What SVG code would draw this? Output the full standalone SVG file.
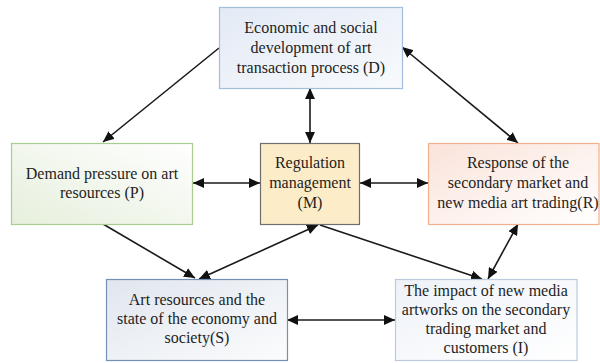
<svg xmlns="http://www.w3.org/2000/svg" width="600" height="363" viewBox="0 0 600 363">
  <style>
    .box { stroke-width: 1.2; }
    .lbl { font-family: "Liberation Serif", "Times New Roman", serif; font-size: 16px; fill: #1e1e1e; text-anchor: middle; }
    .link { stroke: #1a1a1a; stroke-width: 1.6; fill: none; }
  </style>
  <defs>
    <marker id="head" viewBox="0 0 10 9" refX="10" refY="4.5" markerWidth="11" markerHeight="10" markerUnits="userSpaceOnUse" orient="auto-start-reverse">
      <path d="M0,0 L10,4.5 L0,9 Z" fill="#111"/>
    </marker>
    <linearGradient id="gD" x1="0" y1="0" x2="1" y2="1">
      <stop offset="0" stop-color="#e3eaf5"/>
      <stop offset="1" stop-color="#f8fafd"/>
    </linearGradient>
    <linearGradient id="gP" x1="0" y1="1" x2="1" y2="0">
      <stop offset="0" stop-color="#e6efdc"/>
      <stop offset="1" stop-color="#ffffff"/>
    </linearGradient>
    <linearGradient id="gR" x1="0" y1="0" x2="1" y2="1">
      <stop offset="0" stop-color="#fae3da"/>
      <stop offset="1" stop-color="#ffffff"/>
    </linearGradient>
    <linearGradient id="gS" x1="0" y1="0" x2="1" y2="1">
      <stop offset="0" stop-color="#e1e6ee"/>
      <stop offset="1" stop-color="#fbfcfd"/>
    </linearGradient>
    <linearGradient id="gI" x1="0" y1="0" x2="1" y2="1">
      <stop offset="0" stop-color="#eef2f8"/>
      <stop offset="1" stop-color="#ffffff"/>
    </linearGradient>
  </defs>

  <rect width="600" height="363" fill="#ffffff"/>

  <!-- connectors -->
  <g id="connectors">
    <line class="link" x1="219" y1="48" x2="103" y2="142" marker-end="url(#head)"/>
    <line class="link" x1="402" y1="47" x2="518" y2="143" marker-start="url(#head)" marker-end="url(#head)"/>
    <line class="link" x1="310" y1="88" x2="310" y2="143" marker-start="url(#head)" marker-end="url(#head)"/>
    <line class="link" x1="193" y1="183" x2="260" y2="183" marker-start="url(#head)" marker-end="url(#head)"/>
    <line class="link" x1="360" y1="183" x2="428" y2="183" marker-start="url(#head)" marker-end="url(#head)"/>
    <line class="link" x1="103" y1="224" x2="195" y2="278" marker-end="url(#head)"/>
    <line class="link" x1="318" y1="225" x2="199" y2="279" marker-start="url(#head)" marker-end="url(#head)"/>
    <line class="link" x1="320" y1="225" x2="482" y2="279" marker-end="url(#head)"/>
    <line class="link" x1="518" y1="224" x2="488" y2="279" marker-start="url(#head)" marker-end="url(#head)"/>
    <line class="link" x1="287" y1="320" x2="395" y2="320" marker-start="url(#head)" marker-end="url(#head)"/>
  </g>

  <!-- nodes -->
  <g id="node-D">
    <rect class="box" x="219.5" y="7.5" width="183" height="81" fill="url(#gD)" stroke="#a3bddd"/>
    <text class="lbl" x="311" y="33">Economic and social</text>
    <text class="lbl" x="311" y="53">development of art</text>
    <text class="lbl" x="311" y="73">transaction process (D)</text>
  </g>

  <g id="node-P">
    <rect class="box" x="11.5" y="143.5" width="181" height="81" fill="url(#gP)" stroke="#a9cc92"/>
    <text class="lbl" x="102" y="179">Demand pressure on art</text>
    <text class="lbl" x="102" y="198">resources (P)</text>
  </g>

  <g id="node-M">
    <rect class="box" x="260.5" y="143.5" width="99" height="81" fill="#fdecc8" stroke="#6e6e6e"/>
    <text class="lbl" x="310" y="168">Regulation</text>
    <text class="lbl" x="310" y="188">management</text>
    <text class="lbl" x="310" y="208">(M)</text>
  </g>

  <g id="node-R">
    <rect class="box" x="428.5" y="143.5" width="170.5" height="81" fill="url(#gR)" stroke="#f0b08e"/>
    <text class="lbl" x="518" y="168">Response of the</text>
    <text class="lbl" x="518" y="188">secondary market and</text>
    <text class="lbl" x="518" y="208">new media art trading(R)</text>
  </g>

  <g id="node-S">
    <rect class="box" x="106.5" y="279.5" width="181" height="81" fill="url(#gS)" stroke="#7391b6"/>
    <text class="lbl" x="197" y="305">Art resources and the</text>
    <text class="lbl" x="197" y="324">state of the economy and</text>
    <text class="lbl" x="197" y="343">society(S)</text>
  </g>

  <g id="node-I">
    <rect class="box" x="395.5" y="279.5" width="181.5" height="81" fill="url(#gI)" stroke="#bccadd"/>
    <text class="lbl" x="486" y="296">The impact of new media</text>
    <text class="lbl" x="486" y="315">artworks on the secondary</text>
    <text class="lbl" x="486" y="334">trading market and</text>
    <text class="lbl" x="486" y="353">customers (I)</text>
  </g>
</svg>
